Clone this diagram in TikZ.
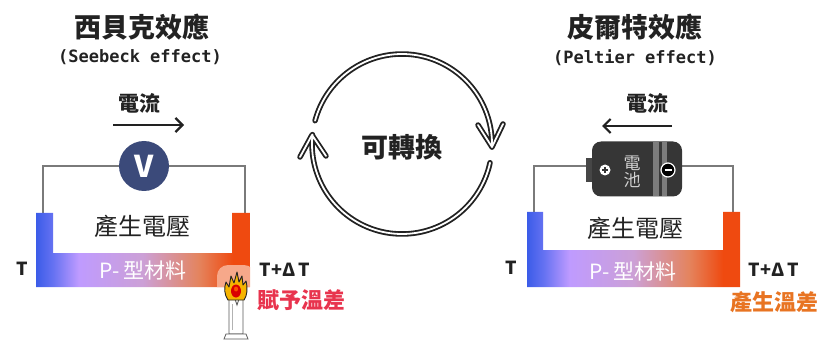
\documentclass[tikz,border=0pt]{standalone}
\usepackage{fontspec}
\setmainfont{Noto Sans CJK TC}
\newfontfamily\cjk{Noto Sans CJK TC}
\setmonofont{DejaVu Sans Mono}
\usetikzlibrary{arrows.meta}

\definecolor{wire}{HTML}{7A7A7A}
\definecolor{voltblue}{HTML}{3B4A7A}
\definecolor{battbody}{HTML}{363636}
\definecolor{battband}{HTML}{7C7C7C}
\definecolor{warmred}{HTML}{E8344E}
\definecolor{warmorange}{HTML}{E87422}
\definecolor{coldblue}{HTML}{3B5CE8}
\definecolor{coldblue2}{HTML}{6672F2}
\definecolor{lavender}{HTML}{BF9BFF}
\definecolor{mauve}{HTML}{CCA0D6}
\definecolor{coral}{HTML}{E4845E}
\definecolor{hotred}{HTML}{EF4A10}
\definecolor{glow}{HTML}{F6A88A}
\definecolor{flame}{HTML}{F6B400}
\definecolor{ink}{HTML}{222222}

% left-to-right temperature gradient of the P-type bar
\pgfdeclarehorizontalshading{pmat}{100bp}{%
  color(0bp)=(coldblue); color(25bp)=(coldblue); color(29bp)=(coldblue2);
  color(35bp)=(lavender); color(50bp)=(mauve); color(63bp)=(coral);
  color(71bp)=(hotred); color(100bp)=(hotred)}

\tikzset{
  title/.style={font=\cjk\bfseries\fontsize{27}{30}\selectfont, text=ink, inner sep=0pt},
  subtitle/.style={font=\ttfamily\bfseries\fontsize{17}{20}\selectfont, text=ink, inner sep=0pt},
  curlabel/.style={font=\cjk\bfseries\fontsize{21}{24}\selectfont, text=ink, inner sep=0pt},
  voltlabel/.style={font=\cjk\fontsize{24}{26}\selectfont, text=ink, inner sep=0pt},
  matlabel/.style={font=\cjk\fontsize{21}{24}\selectfont, text=white, inner sep=0pt},
  templabel/.style={font=\cjk\bfseries\fontsize{18}{20}\selectfont, text=ink, inner sep=0pt},
  heatlabel/.style={font=\cjk\bfseries\fontsize{22}{24}\selectfont, inner sep=0pt},
  wireline/.style={draw=wire, line width=2pt},
  flowarrow/.style={draw=ink, line width=2.2pt, -{Straight Barb[length=7pt,width=14pt,line width=2.2pt]}},
  cycarrow/.style={draw=white, line width=1.8pt, line cap=round, line join=round,
                   preaction={draw=ink, line width=5.5pt, line cap=round, line join=round}},
  pbar/.style={shading=pmat, draw=none},
}

\begin{document}
\begin{tikzpicture}[x=1pt,y=-1pt]
\useasboundingbox (0,0) rectangle (820,342);

%%%%%%%%%%%%%%%% Seebeck effect %%%%%%%%%%%%%%%%
\node[title] (stitle) at (142,27) {西貝克效應};
\node[subtitle] (ssub) at (140,57) {(Seebeck effect)};
\node[curlabel] (scur) at (139,103) {電流};
\coordinate (scurA) at (113,125);
\coordinate (scurB) at (184,125);
\draw[flowarrow] (scurA) -- (scurB);

% outer circuit wire
\coordinate (slw) at (43,214);
\coordinate (srw) at (245,214);
\coordinate (svc) at (144,166);
\draw[wireline] (slw) |- (svc) -| (srw);

% P-type U bar
\shade[pbar] (36,213) -- (36,287) -- (250,287) -- (250,213) -- (232,213)
  -- (232,253) -- (53,253) -- (53,213) -- cycle;
\begin{scope}
  \clip (36,213) -- (36,287) -- (250,287) -- (250,213) -- (232,213)
    -- (232,253) -- (53,253) -- (53,213) -- cycle;
  \fill[glow] (217,290) [rounded corners=11pt] -- (217,265) -- (255,265) [sharp corners] -- (255,290) -- cycle;
\end{scope}

% voltmeter
\node[circle, fill=voltblue, minimum size=50pt, inner sep=0pt,
      font=\fontsize{30}{30}\selectfont\bfseries, text=white] (volt) at (svc) {V};

\node[voltlabel] (sgen) at (142,226) {產生電壓};
\node[matlabel] (smat) at (143,271) {P-\,型材料};
\node[templabel] (sT) at (22,269) {T};
\node[templabel] (sTd) at (285,270) {T+Δ\,T};
\node[heatlabel, text=warmred] (sheat) at (301,300) {賦予溫差};

% candle
\draw[gray!70!black, fill=white, line width=0.8pt]
  (229,298) -- (229,334) -- (243,334) -- (243,298) -- (239,299) -- (237,305) -- (235,299) -- cycle;
\draw[gray!70!black, fill=white, line width=0.8pt]
  (224,339) -- (226,334) -- (246,334) -- (248,339) -- cycle;
\draw[gray!60, line width=0.6pt] (232,304) -- (232,330);
\draw[ink, fill=flame, line width=0.9pt, line join=round]
  (228,300) .. controls (224,294) and (224,288) .. (226,282)
  -- (229,287) -- (231,276) -- (234,283) -- (237,272) -- (239,282)
  -- (242,276) -- (243,285) -- (246,281)
  .. controls (248,289) and (247,296) .. (244,300) -- cycle;
\fill[red!85!black] (236,291) ellipse (5pt and 6.5pt);
\fill[red!55!flame] (236,289) ellipse (2pt and 2.5pt);

%%%%%%%%%%%%%%%% conversion arrows %%%%%%%%%%%%%%%%
\draw[cycarrow] plot[domain=-2:165, samples=70] ({402+90*cos(\x)},{144-90*sin(\x)})
  (478,125) -- (492,147) -- (503,124);
\draw[cycarrow] plot[domain=174:348, samples=70] ({402+90*cos(\x)},{144-90*sin(\x)})
  (300,157) -- (312,135) -- (326,156);
\node[font=\cjk\bfseries\fontsize{27}{30}\selectfont, text=ink, inner sep=0pt] (conv) at (402,147) {可轉換};

%%%%%%%%%%%%%%%% Peltier effect %%%%%%%%%%%%%%%%
\node[title] (ptitle) at (635,27) {皮爾特效應};
\node[subtitle] (psub) at (635,58) {(Peltier effect)};
\node[curlabel] (pcur) at (647,103) {電流};
\coordinate (pcurA) at (672,126);
\coordinate (pcurB) at (602,126);
\draw[flowarrow] (pcurA) -- (pcurB);

\coordinate (plw) at (534,213);
\coordinate (prw) at (733,213);
\coordinate (pbc) at (636,166);
\draw[wireline] (plw) |- (pbc) -| (prw);

\shade[pbar] (527,212) -- (527,287) -- (740,287) -- (740,212) -- (723,212)
  -- (723,250) -- (543,250) -- (543,212) -- cycle;

% battery
\fill[gray!55!black] (586,158) rectangle (595,182);
\node[fill=battbody, rounded corners=9pt, minimum width=90pt, minimum height=55pt,
      inner sep=0pt] (batt) at (637,169) {};
\fill[battband] (653,142) rectangle (667,196);
\fill[gray!45!black] (659,142) rectangle (662,196);
\node[circle, fill=white, minimum size=11pt, inner sep=0pt] (bplus) at (605,170) {};
\draw[battbody, line width=1.4pt] (bplus.center) ++(-3,0) -- ++(6,0) (bplus.center) ++(0,-3) -- ++(0,6);
\node[circle, fill=black, draw=white, line width=1.2pt, minimum size=14pt, inner sep=0pt] (bminus) at (668,170) {};
\draw[white, line width=1.4pt] (bminus.center) ++(-3.5,0) -- ++(7,0);
\node[font=\cjk\fontsize{17}{19}\selectfont, text=gray!35, inner sep=0pt, align=center] (bname) at (632,172) {電\\[-2pt]池};

\node[voltlabel] (pgen) at (635,228) {產生電壓};
\node[matlabel] (pmat) at (633,272) {P-\,型材料};
\node[templabel] (pT) at (511,268) {T};
\node[templabel] (pTd) at (774,270) {T+Δ\,T};
\node[heatlabel, text=warmorange] (pheat) at (774,302) {產生溫差};

\end{tikzpicture}
\end{document}
